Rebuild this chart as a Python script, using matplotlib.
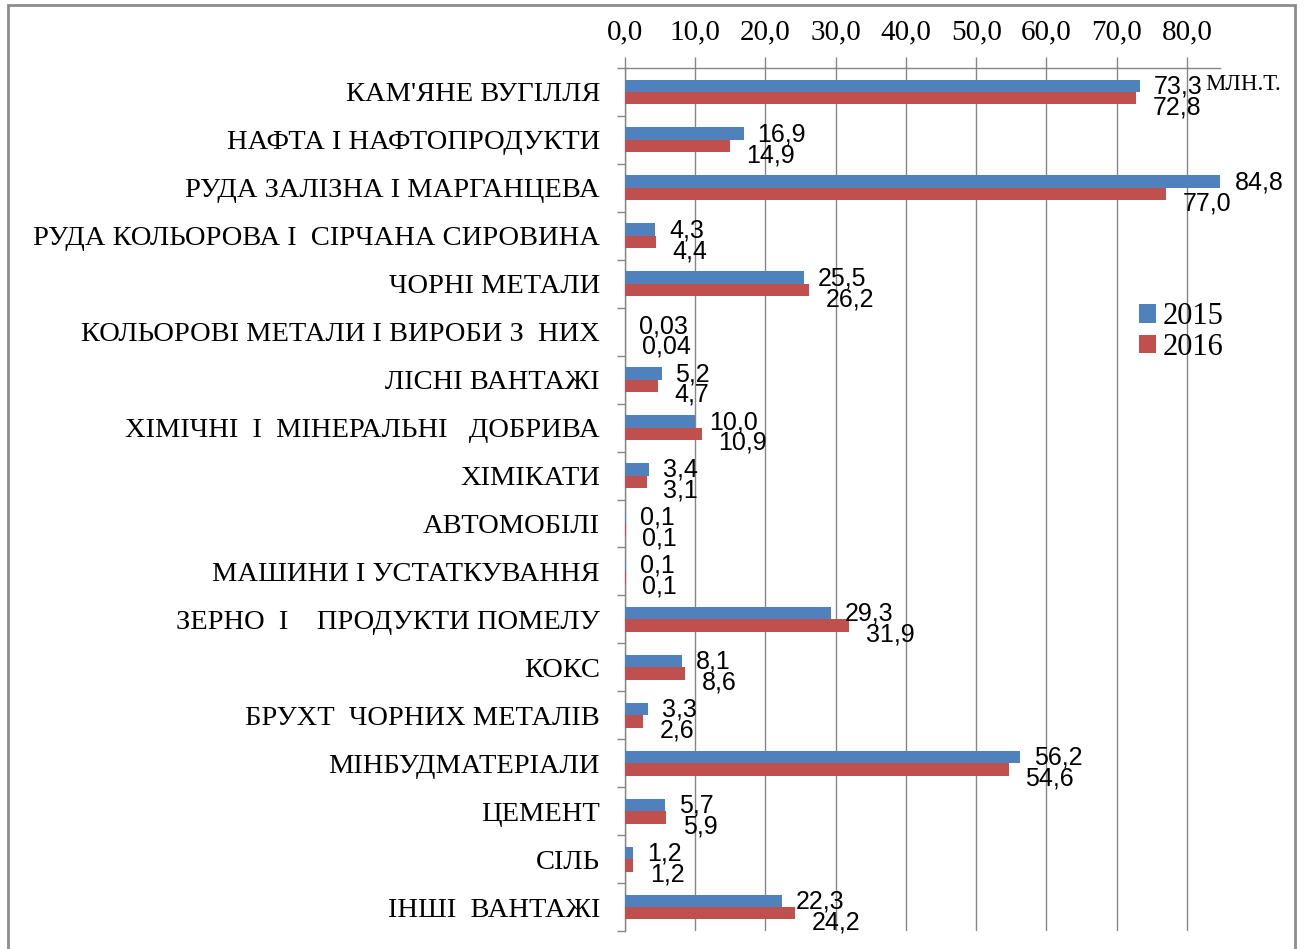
import matplotlib
matplotlib.use("Agg")
import matplotlib.pyplot as plt
import numpy as np
from matplotlib.patches import Rectangle

categories = [
    "КАМ'ЯНЕ ВУГІЛЛЯ",
    "НАФТА І НАФТОПРОДУКТИ",
    "РУДА ЗАЛІЗНА І МАРГАНЦЕВА",
    "РУДА КОЛЬОРОВА І  СІРЧАНА СИРОВИНА",
    "ЧОРНІ МЕТАЛИ",
    "КОЛЬОРОВІ МЕТАЛИ І ВИРОБИ З  НИХ",
    "ЛІСНІ ВАНТАЖІ",
    "ХІМІЧНІ  І  МІНЕРАЛЬНІ   ДОБРИВА",
    "ХІМІКАТИ",
    "АВТОМОБІЛІ",
    "МАШИНИ І УСТАТКУВАННЯ",
    "ЗЕРНО  І    ПРОДУКТИ ПОМЕЛУ",
    "КОКС",
    "БРУХТ  ЧОРНИХ МЕТАЛІВ",
    "МІНБУДМАТЕРІАЛИ",
    "ЦЕМЕНТ",
    "СІЛЬ",
    "ІНШІ  ВАНТАЖІ",
]
values_2015 = [73.3, 16.9, 84.8, 4.3, 25.5, 0.03, 5.2, 10.0, 3.4, 0.1, 0.1, 29.3, 8.1, 3.3, 56.2, 5.7, 1.2, 22.3]
values_2016 = [72.8, 14.9, 77.0, 4.4, 26.2, 0.04, 4.7, 10.9, 3.1, 0.1, 0.1, 31.9, 8.6, 2.6, 54.6, 5.9, 1.2, 24.2]
series_names = ["2015", "2016"]
x_ticks = [0, 10, 20, 30, 40, 50, 60, 70, 80]
unit_label = "МЛН.Т."

BLUE = "#4F81BD"
RED = "#C0504D"
GRID = "#868686"
SERIF = "Liberation Serif"
SANS = "Liberation Sans"


def fmt(v):
    s = f"{v:.2f}" if v < 0.1 else f"{v:.1f}"
    return s.replace(".", ",")


fig = plt.figure(figsize=(13.04, 9.49), dpi=100)
ax = fig.add_axes([625 / 1304, 1 - 931 / 949, (1220 - 625) / 1304, (931 - 68) / 949])

n = len(categories)
y = np.arange(n)
h = 0.26
b1 = ax.barh(y - h / 2, values_2015, height=h, color=BLUE, label=series_names[0], zorder=3)
b2 = ax.barh(y + h / 2, values_2016, height=h, color=RED, label=series_names[1], zorder=3)

for yi, v in zip(y, values_2015):
    ax.annotate(fmt(v), xy=(v, yi - h / 2), xytext=(10, -0.5), textcoords="offset points",
                ha="left", va="center", fontsize=18, family=SANS, zorder=4,
                annotation_clip=False)
for yi, v in zip(y, values_2016):
    ax.annotate(fmt(v), xy=(v, yi + h / 2), xytext=(12, -6.5), textcoords="offset points",
                ha="left", va="center", fontsize=18, family=SANS, zorder=4,
                annotation_clip=False)

ax.set_ylim(n - 0.5, -0.5)
ax.set_xlim(0, 84.7)

# category boundary ticks
ax.set_yticks(np.arange(-0.5, n, 1.0))
ax.set_yticklabels([])
ax.tick_params(axis="y", which="major", length=6, color=GRID, width=1)
ax.set_yticks(y, minor=True)
ax.set_yticklabels(categories, minor=True, fontsize=20.5, family=SERIF)
ax.tick_params(axis="y", which="minor", length=0, pad=18)

ax.xaxis.tick_top()
ax.set_xticks(x_ticks)
ax.set_xticklabels([f"{t:.1f}".replace(".", ",") for t in x_ticks], fontsize=21, family=SERIF)
ax.tick_params(axis="x", length=8, color=GRID, width=1, pad=8)

ax.grid(axis="x", color=GRID, linewidth=1, zorder=0)
for s in ["right", "bottom"]:
    ax.spines[s].set_visible(False)
for s in ["top", "left"]:
    ax.spines[s].set_color(GRID)
    ax.spines[s].set_linewidth(1)

fig.text(1205 / 1304, 1 - 84 / 949, unit_label, fontsize=16.5, family=SERIF, ha="left", va="center")

leg = fig.legend(handles=[b1, b2], labels=series_names, loc="upper left",
                 bbox_to_anchor=(1118 / 1304, 1 - 281 / 949), frameon=False,
                 prop={"family": SERIF, "size": 22}, handlelength=0.55, handleheight=0.55,
                 handletextpad=0.2, labelspacing=0.05, borderpad=0.2)

fig.patches.append(Rectangle((8 / 1304, -0.01), (1295 - 8) / 1304, 1 - 5 / 949 + 0.01,
                             transform=fig.transFigure, fill=False, edgecolor="#8c8c8c",
                             linewidth=2))

fig.savefig("out.png", dpi=100)
